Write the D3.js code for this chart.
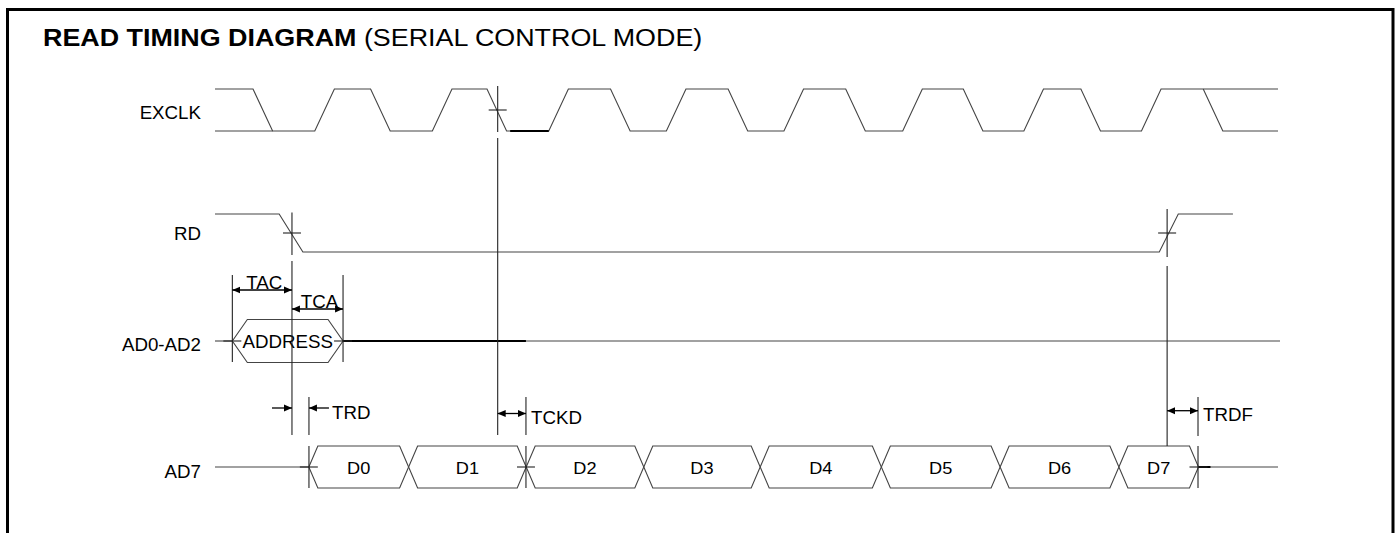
<!DOCTYPE html>
<html>
<head>
<meta charset="utf-8">
<script src="https://cdn.jsdelivr.net/npm/d3@7"></script>
<style>
body { margin: 0; background: #fff; }
text { font-family: "Liberation Sans", Arial, sans-serif; fill: #000; }
</style>
</head>
<body>
<svg id="chart"></svg>
<script>
// rows, top to bottom
const signals = ["EXCLK", "RD", "AD0-AD2", "AD7"];

// EXCLK edge start times (clock periods)
const clkFall = [0.32, 1.31, 2.29, 3.33, 4.32, 5.31, 6.30, 7.29, 8.32];
const clkRise = [0.84, 1.83, 2.81, 3.80, 4.79, 5.79, 6.81, 7.80];
const clkEdge = 0.165;
const traceEnd = 8.95;

// RD level (1 = high, 0 = low)
const rdTime = [0, 0.54, 0.74, 7.95, 8.11, 8.57];
const rdLevel = [1, 1, 0, 0, 1, 1];

// address valid window on AD0-AD2
const addrWindow = [0.146, 1.078];
const addrHold = 2.618;

// serial data on AD7
const dataWords = ["D0", "D1", "D2", "D3", "D4", "D5", "D6", "D7"];
const dataBounds = [0.79, 1.63, 2.62, 3.61, 4.59, 5.61, 6.61, 7.61, 8.28];

// timing parameters
const timingNames = ["TAC", "TCA", "TRD", "TCKD", "TRDF"];
const timingFrom = [0.146, 0.648, 0.648, 2.38, 8.016];
const timingTo = [0.648, 1.078, 0.791, 2.618, 8.276];

const width = 1397, height = 533;
const SX = 1.07; // the drawing is a bit stretched sideways

const svg = d3.select("#chart").attr("width", width).attr("height", height);

const x = d3.scaleLinear().domain([0, 9]).range([215, 1284]);
const y = d3.scaleOrdinal().domain(signals).range([110, 233, 341, 467]);
const half = { "EXCLK": 21, "RD": 19, "AD0-AD2": 21.5, "AD7": 21 };

function lev(sig, l) { return y(sig) + (l ? -half[sig] : half[sig]); }

// arrow heads
const defs = svg.append("defs");
defs.append("marker")
    .attr("id", "arr")
    .attr("viewBox", "0 -4 8 8")
    .attr("refX", 8).attr("refY", 0)
    .attr("markerWidth", 8).attr("markerHeight", 8)
    .attr("markerUnits", "userSpaceOnUse")
    .attr("orient", "auto-start-reverse")
  .append("path").attr("d", "M0,-3.5L8,0L0,3.5Z").attr("fill", "#000");

// frame
svg.append("path")
    .attr("d", "M7.5,545V9.5H1393V545")
    .attr("fill", "none").attr("stroke", "#000").attr("stroke-width", 3);

function txt(str, tx, ty, anchor, size, weight) {
    return svg.append("text")
        .attr("transform", "translate(" + tx + "," + ty + ") scale(" + SX + ",1)")
        .attr("text-anchor", anchor || "start")
        .attr("font-size", size || 17.5)
        .attr("font-weight", weight || "normal")
        .text(str);
}

// title
const title = svg.append("text")
    .attr("transform", "translate(43,46) scale(1.12,1)")
    .attr("font-size", 24);
title.append("tspan").attr("font-weight", "bold").text("READ TIMING DIAGRAM");
title.append("tspan").text(" (SERIAL CONTROL MODE)");

// row labels
const labelDy = [9, 7, 10, 11];
signals.forEach(function(s, i) { txt(s, 201, y(s) + labelDy[i], "end", 17.5); });

const wave = svg.append("g").attr("fill", "none").attr("stroke", "#444").attr("stroke-width", 1.1);
const line = function(sig) {
    return d3.line().x(function(d) { return x(d[0]); }).y(function(d) { return lev(sig, d[1]); });
};

// EXCLK
let clkPts = [[0, 1]];
clkFall.slice(0, -1).map(function(t) { return [t, 0]; })
    .concat(clkRise.map(function(t) { return [t, 1]; }))
    .sort(function(a, b) { return a[0] - b[0]; })
    .forEach(function(e) { clkPts.push([e[0], 1 - e[1]]); clkPts.push([e[0] + clkEdge, e[1]]); });
clkPts.push([traceEnd, 1]);
const lastFall = clkFall[clkFall.length - 1];
wave.append("path").attr("d", line("EXCLK")(clkPts));
wave.append("path").attr("d", line("EXCLK")([[0, 0], [clkFall[0] + clkEdge, 0]]));
wave.append("path").attr("d", line("EXCLK")([[lastFall, 1], [lastFall + clkEdge, 0], [traceEnd, 0]]));
svg.append("path").attr("d", line("EXCLK")([[clkFall[2] + clkEdge + 0.03, 0], [clkRise[2], 0]]))
    .attr("stroke", "#000").attr("stroke-width", 2).attr("fill", "none");

// RD
wave.append("path").attr("d", line("RD")(rdTime.map(function(t, i) { return [t, rdLevel[i]]; })));

// hexagon bus cell
function hex(sig, t0, t1, slant) {
    const x0 = x(t0), x1 = x(t1), yc = y(sig), h = half[sig];
    return "M" + x0 + "," + yc + "L" + (x0 + slant) + "," + (yc - h) + "L" + (x1 - slant) + "," + (yc - h) +
        "L" + x1 + "," + yc + "L" + (x1 - slant) + "," + (yc + h) + "L" + (x0 + slant) + "," + (yc + h) + "Z";
}

// AD0-AD2
const ya = y("AD0-AD2");
wave.append("line").attr("x1", x(0)).attr("x2", x(addrWindow[0])).attr("y1", ya).attr("y2", ya);
wave.append("path").attr("d", hex("AD0-AD2", addrWindow[0], addrWindow[1], 15));
svg.append("line").attr("x1", x(addrWindow[1])).attr("x2", x(addrHold)).attr("y1", ya).attr("y2", ya)
    .attr("stroke", "#000").attr("stroke-width", 2);
wave.append("line").attr("x1", x(addrHold)).attr("x2", x(traceEnd) + 2).attr("y1", ya).attr("y2", ya);
txt("ADDRESS", x((addrWindow[0] + addrWindow[1]) / 2), ya + 6.5, "middle", 17.5);

// AD7
const yd = y("AD7");
wave.append("line").attr("x1", x(0)).attr("x2", x(dataBounds[0])).attr("y1", yd).attr("y2", yd);
dataWords.forEach(function(w, i) {
    wave.append("path").attr("d", hex("AD7", dataBounds[i], dataBounds[i + 1], 9));
    txt(w, x((dataBounds[i] + dataBounds[i + 1]) / 2), yd + 6.5, "middle", 17);
});
const lastB = dataBounds[dataBounds.length - 1];
wave.append("line").attr("x1", x(lastB)).attr("x2", x(traceEnd)).attr("y1", yd).attr("y2", yd);
svg.append("line").attr("x1", x(lastB)).attr("x2", x(lastB) + 12).attr("y1", yd).attr("y2", yd)
    .attr("stroke", "#000").attr("stroke-width", 2);

// guide lines (time, [y segments])
const guides = [
    [timingTo[0], [[212.5, 255], [261, 435]]],
    [timingFrom[3], [[86, 132], [138, 435]]],
    [timingTo[3], [[397, 435], [446, 488]]],
    [timingTo[2], [[397, 435], [446, 488]]],
    [timingFrom[4], [[209, 257], [266, 446]]],
    [timingTo[4], [[397, 436], [446, 488]]],
    [timingFrom[0], [[275, 362]]],
    [timingTo[1], [[275, 362]]]
];
const gg = svg.append("g").attr("stroke", "#222").attr("stroke-width", 1.1);
guides.forEach(function(g) {
    g[1].forEach(function(s) {
        gg.append("line").attr("x1", x(g[0])).attr("x2", x(g[0])).attr("y1", s[0]).attr("y2", s[1]);
    });
});

// short crossing ticks
const ticks = [["EXCLK", timingFrom[3]], ["RD", timingTo[0]], ["RD", timingFrom[4]],
    ["AD0-AD2", addrWindow[0]], ["AD0-AD2", addrWindow[1]],
    ["AD7", dataBounds[0]], ["AD7", timingTo[3]], ["AD7", lastB]];
ticks.forEach(function(k) {
    gg.append("line").attr("x1", x(k[1]) - 9).attr("x2", x(k[1]) + 9)
        .attr("y1", y(k[0])).attr("y2", y(k[0]));
});

// timing arrows
const arrowY = { TAC: 290, TCA: 309, TRD: 408, TCKD: 413.5, TRDF: 410.7 };
const ag = svg.append("g").attr("stroke", "#000").attr("stroke-width", 1.3);
timingNames.forEach(function(n, i) {
    const a = x(timingFrom[i]), b = x(timingTo[i]), yy = arrowY[n];
    if (n === "TRD") {
        ag.append("line").attr("x1", a - 20).attr("x2", a).attr("y1", yy).attr("y2", yy).attr("marker-end", "url(#arr)");
        ag.append("line").attr("x1", b + 20).attr("x2", b).attr("y1", yy).attr("y2", yy).attr("marker-end", "url(#arr)");
        txt(n, b + 23, yy + 10.5, "start", 17.5);
    } else {
        ag.append("line").attr("x1", a).attr("x2", b).attr("y1", yy).attr("y2", yy)
            .attr("marker-start", "url(#arr)").attr("marker-end", "url(#arr)");
        if (n === "TAC" || n === "TCA") txt(n, (a + b) / 2 + 2, yy - 1, "middle", 17.5);
        else txt(n, b + 5, yy + 10.5, "start", 17.5);
    }
});
</script>
</body>
</html>
